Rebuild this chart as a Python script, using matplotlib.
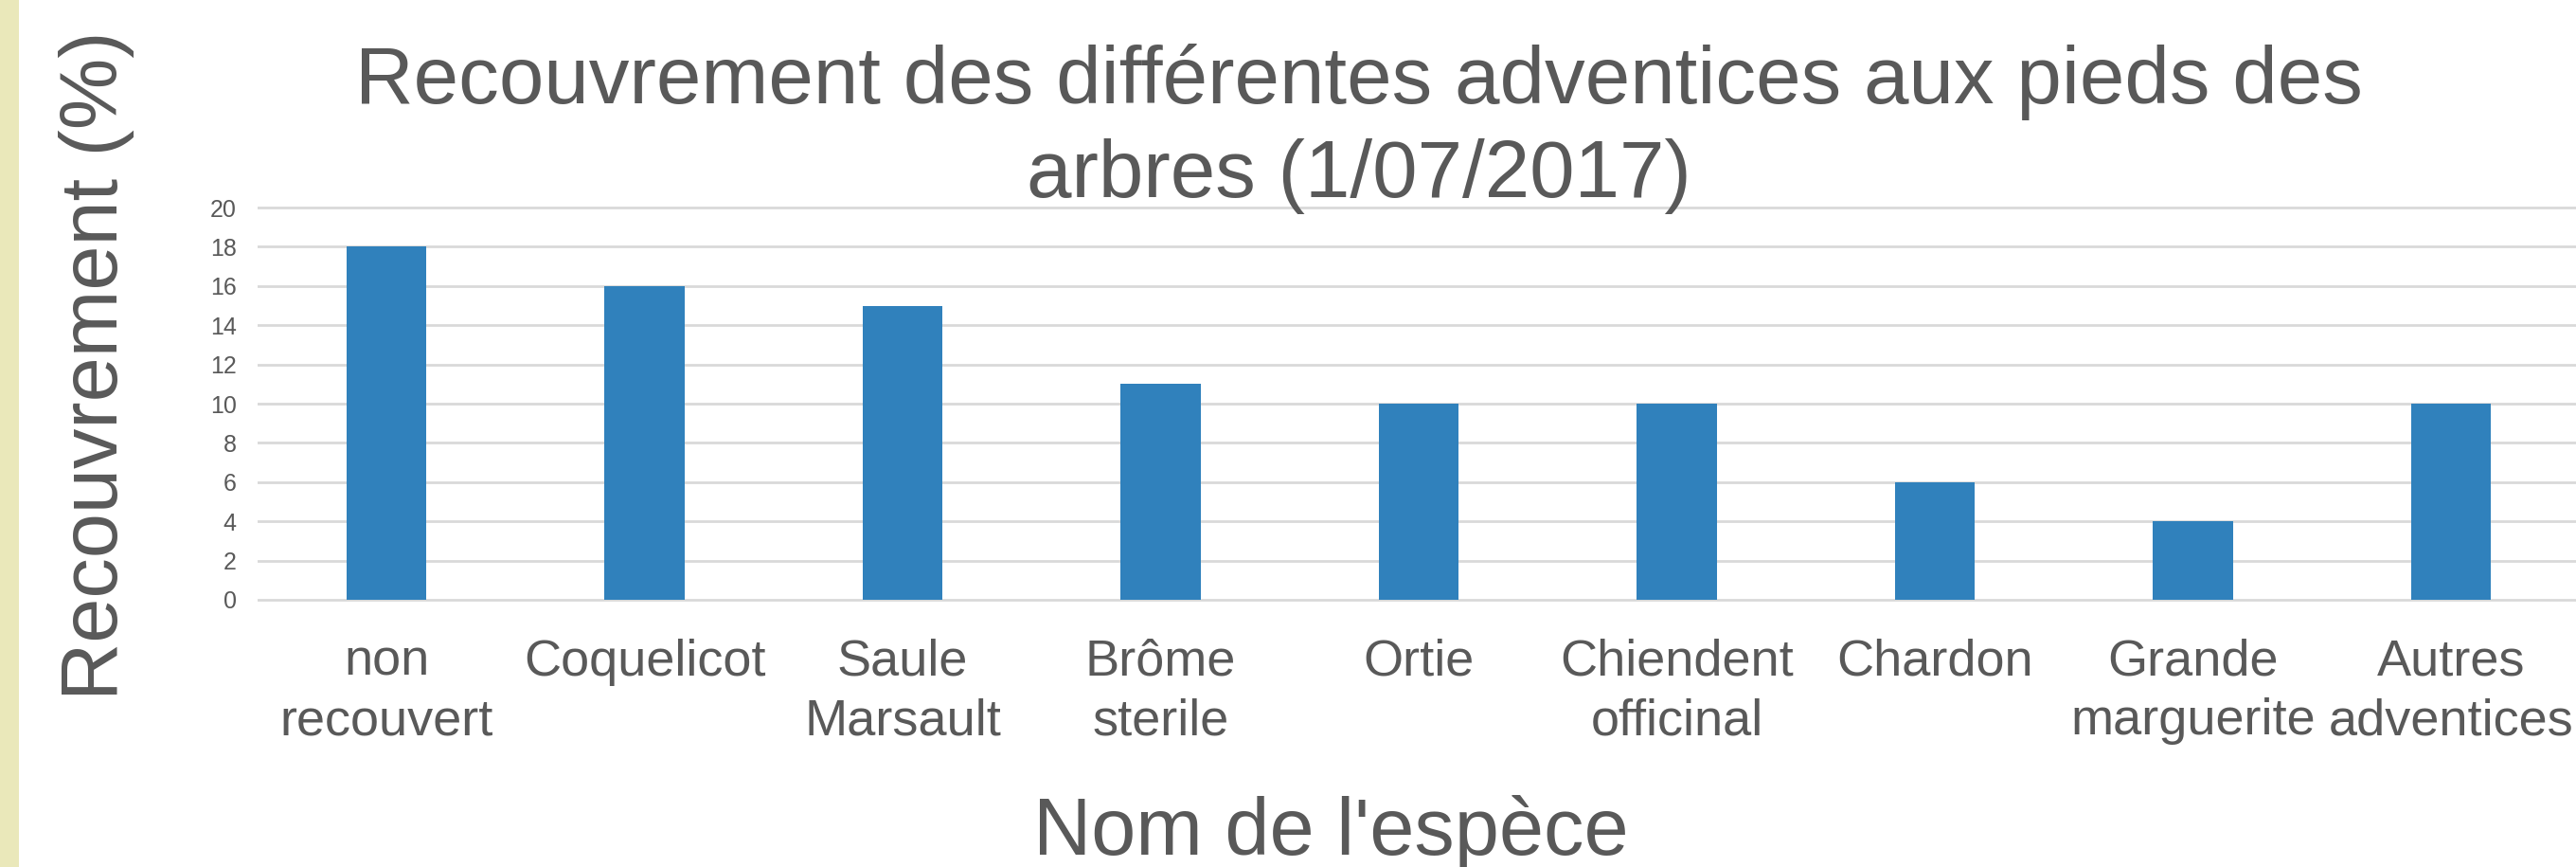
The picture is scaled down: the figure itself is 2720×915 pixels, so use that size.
import matplotlib
matplotlib.use("Agg")
import matplotlib.pyplot as plt
from matplotlib.patches import Rectangle

# data
especes = ["non\nrecouvert", "Coquelicot", "Saule\nMarsault", "Brôme\nsterile", "Ortie",
           "Chiendent\nofficinal", "Chardon", "Grande\nmarguerite", "Autres\nadventices"]
recouvrement = [18, 16, 15, 11, 10, 10, 6, 4, 10]
yticks = [0, 2, 4, 6, 8, 10, 12, 14, 16, 18, 20]

titre = "Recouvrement des différentes adventices aux pieds des\narbres (1/07/2017)"
xlab = "Nom de l'espèce"
ylab = "Recouvrement (%)"

gris = "#595959"
bleu = "#3081BC"

plt.rcParams['font.family'] = ['Liberation Sans', 'DejaVu Sans']

fig = plt.figure(figsize=(27.2, 9.15), dpi=100)
fig.patches.append(Rectangle((0, 0), 20/2720, 1, transform=fig.transFigure,
                             facecolor="#EAE8BA", edgecolor="none"))

ax = fig.add_axes([272/2720, 1-635/915, 2452/2720, (635-217)/915])
x = range(len(especes))
ax.bar(x, recouvrement, width=0.31, color=bleu, zorder=3)
ax.set_xlim(-0.5, len(especes)-0.5)
ax.set_ylim(-0.1, 20.1)
ax.set_yticks(yticks)
ax.yaxis.grid(True, color="#D9D9D9", linewidth=2, zorder=0)
ax.set_xticks(list(x))
ax.set_xticklabels(especes, fontsize=39, color=gris, linespacing=1.32)
ax.tick_params(axis='x', length=0, pad=28)
ax.tick_params(axis='y', length=0, pad=16, labelsize=18, labelcolor=gris)
for s in ax.spines.values():
    s.set_visible(False)

fig.text(1435/2720, 1-46/915, titre, fontsize=61.5, color=gris, ha="center", va="top",
         linespacing=1.3)
fig.text(1405/2720, 1-902/915, xlab, fontsize=61, color=gris, ha="center", va="baseline")
fig.text(102/2720, 1-386/915, ylab, fontsize=61, color=gris, rotation=90,
         ha="center", va="center")

fig.savefig("out.png", dpi=100)
